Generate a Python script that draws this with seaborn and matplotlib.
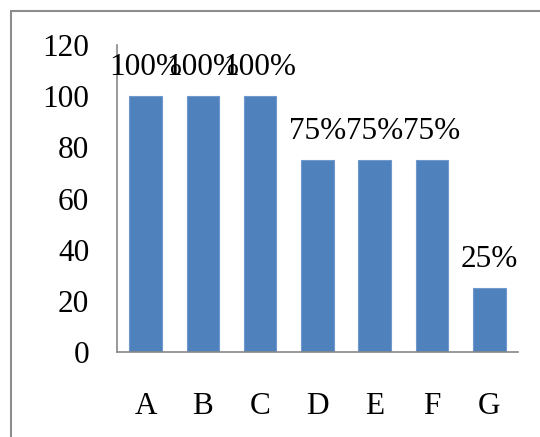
import matplotlib
matplotlib.use("Agg")
import matplotlib.pyplot as plt
import seaborn as sns
from matplotlib.lines import Line2D

# ----------------------------------------
# Data
# ----------------------------------------
categories = ["A", "B", "C", "D", "E", "F", "G"]
values = [100, 100, 100, 75, 75, 75, 25]
value_labels = ["100%", "100%", "100%", "75%", "75%", "75%", "25%"]
y_ticks = [0, 20, 40, 60, 80, 100, 120]

# ----------------------------------------
# Style
# ----------------------------------------
sns.set_style("white")
plt.rcParams["font.family"] = ["Liberation Serif", "DejaVu Serif"]
plt.rcParams["text.color"] = "black"
plt.rcParams["xtick.color"] = "black"
plt.rcParams["ytick.color"] = "black"

fig = plt.figure(figsize=(5.4, 4.37), dpi=100)
ax = fig.add_axes([0.2167, 0.1945, 0.959 - 0.2167, 0.897 - 0.1945])

sns.barplot(
    x=categories,
    y=values,
    color="#4F81BD",
    saturation=1,
    width=0.57,
    edgecolor="#6F98CC",
    linewidth=0.8,
    ax=ax
)

ax.bar_label(ax.containers[0], labels=value_labels, padding=10,
             fontsize=22.5, color="black")

ax.set_ylim(0, 120)
ax.set_xlim(-0.5, len(categories) - 0.5)
ax.set_yticks(y_ticks)
ax.tick_params(axis="y", length=0, pad=20, labelsize=22.5, labelcolor="black")
ax.tick_params(axis="x", length=0, pad=29, labelsize=22.5, labelcolor="black")
ax.set_xlabel("")
ax.set_ylabel("")

for side in ["top", "right"]:
    ax.spines[side].set_visible(False)
for side in ["left", "bottom"]:
    ax.spines[side].set_color("#888888")
    ax.spines[side].set_linewidth(1.2)

# outer chart frame (only top and left edges are visible)
frame_x = 11 / 540
frame_y = 1 - 11 / 437
fig.add_artist(Line2D([frame_x, 1.0], [frame_y, frame_y],
                      transform=fig.transFigure, color="#8c8c8c", linewidth=1.5))
fig.add_artist(Line2D([frame_x, frame_x], [0.0, frame_y],
                      transform=fig.transFigure, color="#8c8c8c", linewidth=1.5))

fig.savefig("out.png", dpi=100)
